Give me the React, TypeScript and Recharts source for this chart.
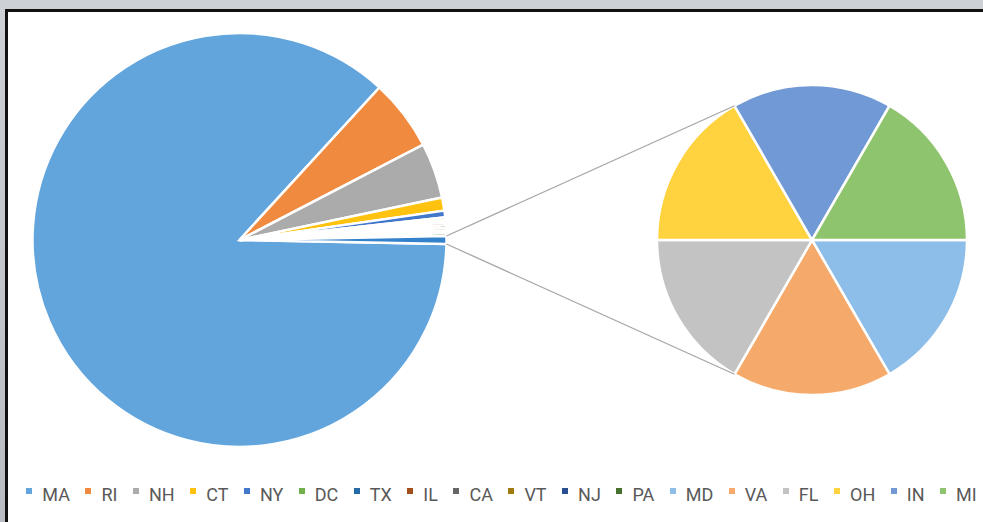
import React from 'react';
import { PieChart, Pie, Cell, Legend } from 'recharts';

// first pie: states drawn as their own slices, the rest are split out
const mainStates = ['MA', 'RI', 'NH', 'CT', 'NY', 'DC', 'TX', 'IL', 'CA', 'VT', 'NJ', 'PA'];
const mainValues = [840, 54, 42, 10, 5, 2, 2, 2, 2, 2, 2, 2];
const mainColors = [
  '#62A5DC', '#F08A3E', '#ABABAB', '#FFC30F', '#4178CB', '#72B04A',
  '#266AA8', '#A1501C', '#666666', '#9E7A10', '#2A4E8F', '#477230',
];

// second pie: the "other" states
const detailStates = ['MD', 'VA', 'FL', 'OH', 'IN', 'MI'];
const detailValues = [1, 1, 1, 1, 1, 1];
const detailColors = ['#8DBEE9', '#F5AA6C', '#C3C3C3', '#FFD240', '#7099D5', '#8FC46E'];
const otherColor = '#3582CC';

const W = 983;
const H = 522;
const MAIN = { cx: 239.5, cy: 240, r: 207 };
const DETAIL = { cx: 812, cy: 240, r: 155 };
const RAD = Math.PI / 180;

const otherValue = detailValues.reduce((a, b) => a + b, 0);
const mainData = mainStates
  .map((name, i) => ({ name, value: mainValues[i], fill: mainColors[i] }))
  .concat([{ name: 'Other', value: otherValue, fill: otherColor }]);
const detailData = detailStates.map((name, i) => ({ name, value: detailValues[i], fill: detailColors[i] }));

const total = mainData.reduce((s, d) => s + d.value, 0);
// rotate so the "Other" slice sits centred on the right, like Excel's pie of pie
const mainStart = -((otherValue / total) * 360) / 2;

const legendItems = mainStates
  .map((s, i) => ({ name: s, color: mainColors[i] }))
  .concat(detailStates.map((s, i) => ({ name: s, color: detailColors[i] })));

function polar(cx: number, cy: number, r: number, angle: number) {
  return { x: cx + Math.cos(-angle * RAD) * r, y: cy + Math.sin(-angle * RAD) * r };
}

// connector lines from the "Other" slice to the second pie
function Connector(props: any) {
  if (props.index !== mainData.length - 1) return null;
  const { cx, cy, outerRadius, startAngle, endAngle } = props;
  const a = polar(cx, cy, outerRadius, startAngle);
  const b = polar(cx, cy, outerRadius, endAngle);
  const up = polar(DETAIL.cx, DETAIL.cy, DETAIL.r, 120);
  const down = polar(DETAIL.cx, DETAIL.cy, DETAIL.r, 240);
  return (
    <g>
      <line x1={a.x} y1={a.y} x2={up.x} y2={up.y} stroke="#A6A6A6" strokeWidth={1.3} />
      <line x1={b.x} y1={b.y} x2={down.x} y2={down.y} stroke="#A6A6A6" strokeWidth={1.3} />
    </g>
  );
}

function LegendContent() {
  return (
    <div style={{ display: 'flex', justifyContent: 'center', alignItems: 'center', fontFamily: 'Roboto, sans-serif', fontSize: 18, lineHeight: '20px', color: '#595959' }}>
      {legendItems.map((it, i) => (
        <div key={it.name} style={{ display: 'flex', alignItems: 'center', marginLeft: i === 0 ? 0 : 15.5 }}>
          <span style={{ width: 6, height: 6, background: it.color, marginRight: 10, position: 'relative', top: -4 }} />
          <span>{it.name}</span>
        </div>
      ))}
    </div>
  );
}

export default function App() {
  return (
    <div style={{ position: 'fixed', left: 0, top: 0, width: W, height: H, overflow: 'hidden', background: 'linear-gradient(#CDD0D5, #B9BDC3)' }}>
      <div style={{ position: 'absolute', left: 5, top: 9, width: 1000, height: 600, background: '#fff', borderLeft: '3px solid #111', borderTop: '3px solid #111' }} />
      <div style={{ position: 'absolute', left: 0, top: 0 }}>
        <PieChart width={W} height={H} margin={{ top: 0, right: 0, bottom: 0, left: 0 }}>
          <Pie
            data={mainData}
            dataKey="value"
            nameKey="name"
            cx={MAIN.cx}
            cy={MAIN.cy}
            outerRadius={MAIN.r}
            startAngle={mainStart}
            endAngle={mainStart - 360}
            stroke="#fff"
            strokeWidth={2.5}
            label={Connector}
            labelLine={false}
            isAnimationActive={false}
          >
            {mainData.map(d => <Cell key={d.name} fill={d.fill} />)}
          </Pie>
          <Pie
            data={detailData}
            dataKey="value"
            nameKey="name"
            cx={DETAIL.cx}
            cy={DETAIL.cy}
            outerRadius={DETAIL.r}
            startAngle={0}
            endAngle={-360}
            stroke="#fff"
            strokeWidth={2.5}
            isAnimationActive={false}
          >
            {detailData.map(d => <Cell key={d.name} fill={d.fill} />)}
          </Pie>
          <Legend
            content={() => <LegendContent />}
            wrapperStyle={{ position: 'absolute', left: 20, top: 485, width: 963, bottom: 'auto' }}
          />
        </PieChart>
      </div>
    </div>
  );
}
